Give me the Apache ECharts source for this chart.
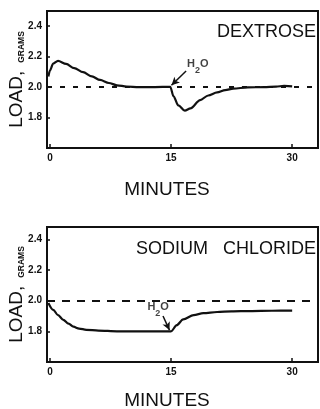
<!DOCTYPE html>
<html>
<head>
<meta charset="utf-8">
<script src="https://cdn.jsdelivr.net/npm/echarts@6/dist/echarts.min.js"></script>
<style>
html,body{margin:0;padding:0;background:#fff;}
#c{width:320px;height:409px;}
</style>
</head>
<body>
<div id="c"></div>
<script>
// ---- data (minutes, grams) ----
const dexT = [-0.2, 0, 0.4, 1.0, 2.0, 3.0, 4.1, 5.2, 6.2, 7.3, 8.3, 9.5, 11, 13, 14.9, 15.3, 15.9, 16.7, 17.4, 18.6, 19.6, 20.7, 21.7, 22.7, 24.5, 26.5, 28, 29, 30];
const dexV = [2.07, 2.11, 2.155, 2.172, 2.152, 2.125, 2.098, 2.07, 2.047, 2.027, 2.012, 2.004, 2.0, 2.0, 2.002, 1.94, 1.88, 1.845, 1.86, 1.915, 1.945, 1.965, 1.98, 1.99, 1.998, 2.0, 2.003, 2.008, 2.005];
const naclT = [-0.2, 0.4, 1.0, 1.65, 2.3, 2.9, 3.6, 4.5, 6, 8.3, 11, 14.5, 15.0, 15.7, 16.5, 17.8, 19, 20.7, 22.5, 24.8, 27.5, 30];
const naclV = [1.985, 1.94, 1.905, 1.875, 1.85, 1.83, 1.818, 1.81, 1.805, 1.80, 1.80, 1.80, 1.80, 1.84, 1.878, 1.906, 1.918, 1.926, 1.93, 1.932, 1.934, 1.935];
const xTicks = [0, 15, 30];
const yTicks = [1.8, 2.0, 2.2, 2.4];
const baseline = 2.0;
const panelTitles = ['DEXTROSE', 'SODIUM   CHLORIDE'];
// arrow annotations: [startT, startV, endT, endV], label position [t, v]
const dexArrow = [16.86, 2.106, 15.05, 2.012];
const dexLabel = [18.3, 2.135];
const naclArrow = [14.0, 1.90, 14.8, 1.808];
const naclLabel = [13.4, 1.94];

const FONT = 'Liberation Sans';
const INK = '#111';

function zip(a, b){ return a.map((v,i)=>[v,b[i]]); }

const chart = echarts.init(document.getElementById('c'), null, {renderer:'canvas'});

function xAxisFor(gi){
  return {
    type:'value', gridIndex:gi, min:-0.37, max:33.2,
    axisLine:{show:false},
    splitLine:{show:false},
    axisTick:{show:true, inside:true, length:4, customValues:xTicks, lineStyle:{color:INK, width:1.5}},
    axisLabel:{show:true, customValues:xTicks, margin:5, color:INK, fontFamily:FONT, fontWeight:'bold', fontSize:10}
  };
}
function yAxesFor(gi, max){
  return [{
    type:'value', gridIndex:gi, min:1.6, max:max,
    axisLine:{show:false}, splitLine:{show:false},
    axisTick:{show:true, inside:false, length:3, customValues:yTicks, lineStyle:{color:INK, width:1.5}},
    axisLabel:{show:true, customValues:yTicks, margin:5, color:INK, fontFamily:FONT, fontWeight:'bold', fontSize:10,
      formatter:v=>v.toFixed(1)},
    name:'LOAD,{g|GRAMS}', nameLocation:'middle', nameRotate:90, nameGap:21, nameMoveOverlap:false,
    nameTextStyle:{color:INK, fontFamily:FONT, fontSize:19, verticalAlign:'bottom',
      rich:{g:{fontSize:8.5, fontWeight:'bold', fontFamily:FONT, color:INK, verticalAlign:'bottom', padding:[0,0,0,8]}}}
  },{
    type:'value', gridIndex:gi, min:1.6, max:max, position:'left',
    axisLine:{show:false}, splitLine:{show:false}, axisLabel:{show:false},
    axisTick:{show:true, inside:true, length:3, customValues:yTicks, lineStyle:{color:INK, width:1.5}}
  }];
}

function curve(gi, data, dash, arrow){
  return {
    type:'line', xAxisIndex:gi, yAxisIndex:gi*2, data:data,
    showSymbol:false, symbol:'none', smooth:0.3, smoothMonotone:'x',
    lineStyle:{color:INK, width:2.2},
    markLine:{
      silent:true, symbol:['none','none'], animation:false,
      label:{show:false},
      data:[
        {yAxis:baseline, lineStyle:{color:INK, width:2, type:dash}},
        [{coord:[arrow[0],arrow[1]], symbol:'none'},
         {coord:[arrow[2],arrow[3]], symbol:'arrow', symbolSize:[6,8], lineStyle:{color:INK, width:1.5, type:'solid'}}]
      ]
    }
  };
}
function h2o(gi, pos){
  return {
    type:'scatter', xAxisIndex:gi, yAxisIndex:gi*2, data:[pos], symbolSize:0, silent:true,
    label:{show:true, position:'inside', formatter:'{a|H}{b|2}{a|O}', color:INK,
      rich:{
        a:{fontFamily:FONT, fontWeight:'bold', fontSize:11, color:INK, lineHeight:16, verticalAlign:'top'},
        b:{fontFamily:FONT, fontWeight:'bold', fontSize:9, color:INK, lineHeight:16, verticalAlign:'bottom', padding:[6,0,0,0]}
      }}
  };
}

chart.setOption({
  animation:false,
  backgroundColor:'#fff',
  title:[
    {text:panelTitles[0], right:4, top:23, padding:0, textStyle:{fontFamily:FONT, fontWeight:'normal', fontSize:18, color:INK}},
    {text:panelTitles[1], right:4, top:240, padding:0, textStyle:{fontFamily:FONT, fontWeight:'normal', fontSize:18, color:INK}},
    {text:'MINUTES', left:167, textAlign:'center', top:180, padding:0, textStyle:{fontFamily:FONT, fontWeight:'normal', fontSize:19, color:INK}},
    {text:'MINUTES', left:167, textAlign:'center', top:391, padding:0, textStyle:{fontFamily:FONT, fontWeight:'normal', fontSize:19, color:INK}}
  ],
  grid:[
    {left:47, top:11, width:271, height:137, show:true, borderColor:INK, borderWidth:2, backgroundColor:'transparent', containLabel:false, outerBoundsMode:'none'},
    {left:47, top:227, width:271, height:135, show:true, borderColor:INK, borderWidth:2, backgroundColor:'transparent', containLabel:false, outerBoundsMode:'none'}
  ],
  xAxis:[xAxisFor(0), xAxisFor(1)],
  yAxis:[].concat(yAxesFor(0, 2.5), yAxesFor(1, 2.48)),
  series:[
    curve(0, zip(dexT, dexV), [5,8], dexArrow),
    curve(1, zip(naclT, naclV), [8,7], naclArrow),
    h2o(0, dexLabel),
    h2o(1, naclLabel)
  ]
});
</script>
</body>
</html>
